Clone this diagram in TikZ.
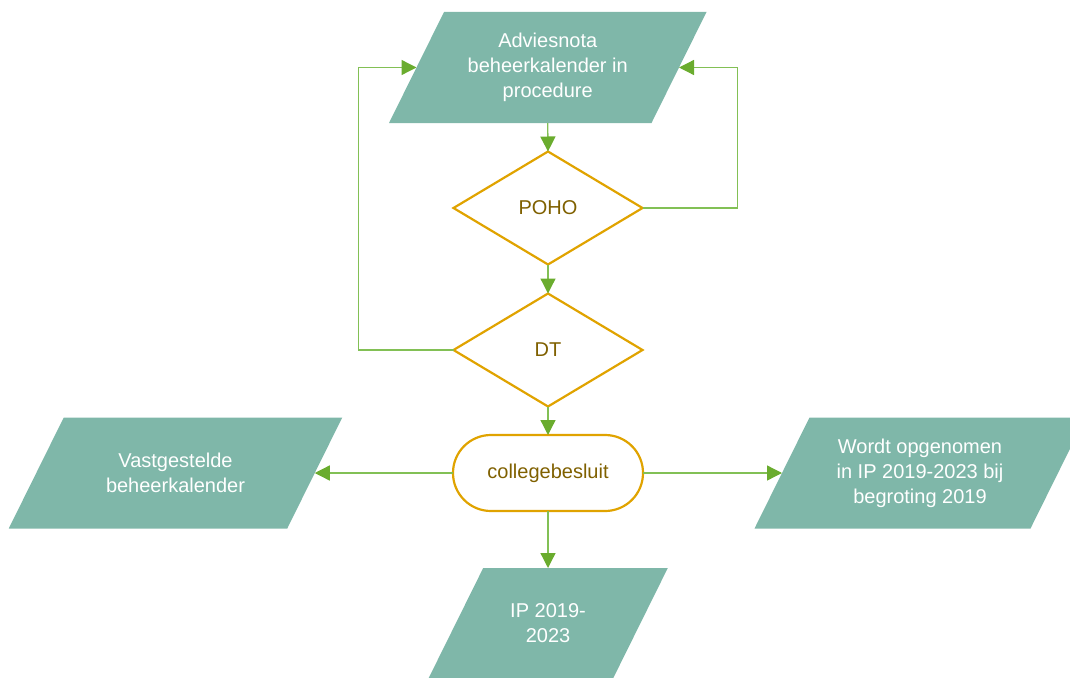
\documentclass[tikz,border=0pt]{standalone}
\usepackage{fontspec}
\setmainfont{Liberation Sans}
\usetikzlibrary{shapes.geometric,arrows.meta,backgrounds}
\definecolor{parafill}{RGB}{127,183,169}
\definecolor{gold}{RGB}{224,163,0}
\definecolor{olive}{RGB}{127,96,0}
\definecolor{linegreen}{RGB}{130,192,85}
\definecolor{tipgreen}{RGB}{106,172,46}
\tikzset{
 para/.style={rectangle, inner sep=0pt, outer sep=0pt, minimum height=111pt, align=center, text=white, font=\fontsize{20}{25}\selectfont},
 decision/.style={diamond, draw=gold, line width=2.2pt, minimum width=189pt, minimum height=113pt, inner sep=0pt, outer sep=0pt, text=olive, font=\fontsize{20}{25}\selectfont},
 terminal/.style={rectangle, rounded corners=37.9pt, draw=gold, line width=2.2pt, minimum width=190pt, minimum height=76pt, outer sep=0pt, text=olive, font=\fontsize{20}{25}\selectfont},
 conn/.style={draw=linegreen, line width=1.3pt, -{Triangle[length=15pt,width=15pt,color=tipgreen]}},
}
\begin{document}
\begin{tikzpicture}[x=1pt,y=-1pt]
\useasboundingbox (0,0) rectangle (1070,677);
\node[para, minimum width=262.5pt] (adv) at (547.75,67.5) {Adviesnota\\beheerkalender in\\procedure};
\node[decision] (poho) at (548,208) {POHO};
\node[decision] (dt) at (548,350) {DT};
\node[terminal] (coll) at (548,473) {collegebesluit};
\node[para, minimum width=278.5pt] (vast) at (175.5,473) {Vastgestelde\\beheerkalender};
\node[para, minimum width=276pt] (word) at (920,473) {Wordt opgenomen\\in IP 2019-2023 bij\\begroting 2019};
\node[para, minimum width=184.6pt] (ip) at (548,623.5) {IP 2019-\\2023};
\begin{scope}[on background layer]
\foreach \n in {adv,vast,word,ip}
  \fill[parafill] ([xshift=27.5pt]\n.north west) -- ([xshift=27.5pt]\n.north east) -- ([xshift=-27.5pt]\n.south east) -- ([xshift=-27.5pt]\n.south west) -- cycle;
\end{scope}
\draw[conn] (adv.south) -- (poho.north);
\draw[conn] (poho.south) -- (dt.north);
\draw[conn] (dt.south) -- (coll.north);
\draw[conn] (poho.east) -- ([xshift=95pt]poho.east) |- (adv.east);
\draw[conn] (dt.west) -- ([xshift=-95pt]dt.west) |- (adv.west);
\draw[conn] (coll.west) -- (vast.east);
\draw[conn] (coll.east) -- (word.west);
\draw[conn] (coll.south) -- (ip.north);
\end{tikzpicture}
\end{document}
